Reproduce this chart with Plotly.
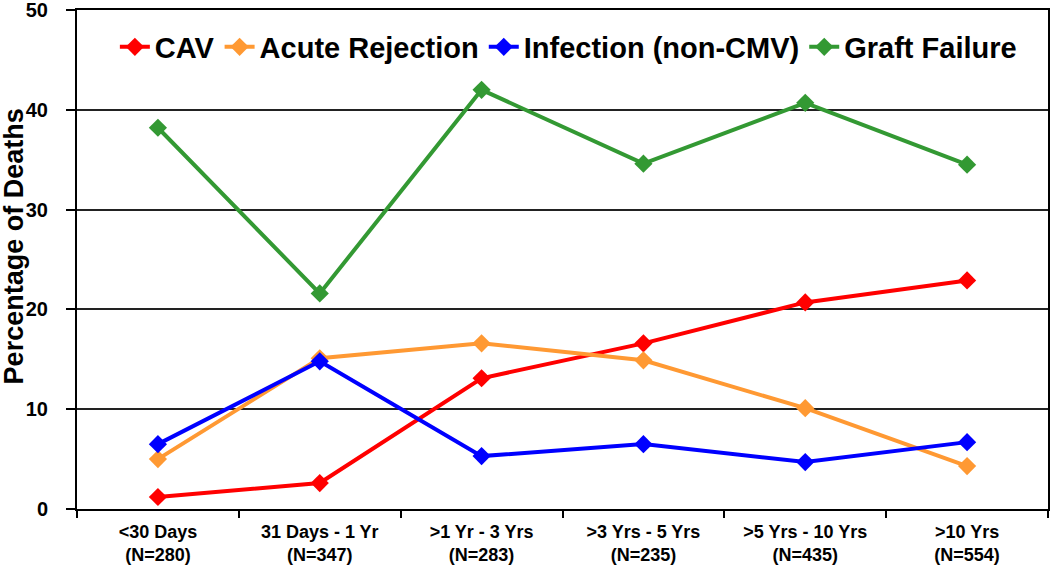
import plotly.graph_objects as go

categories = ["<30 Days<br>(N=280)", "31 Days - 1 Yr<br>(N=347)", ">1 Yr - 3 Yrs<br>(N=283)",
              ">3 Yrs - 5 Yrs<br>(N=235)", ">5 Yrs - 10 Yrs<br>(N=435)", ">10 Yrs<br>(N=554)"]
cav = [1.2, 2.6, 13.1, 16.6, 20.7, 22.9]
acute_rejection = [5.0, 15.1, 16.6, 14.9, 10.1, 4.3]
infection = [6.5, 14.8, 5.3, 6.5, 4.7, 6.7]
graft_failure = [38.2, 21.6, 42.0, 34.6, 40.7, 34.5]

series = [
    ("CAV", cav, "#FF0000"),
    ("Acute Rejection", acute_rejection, "#FF9933"),
    ("Infection (non-CMV)", infection, "#0000FF"),
    ("Graft Failure", graft_failure, "#339933"),
]

FONT = "Arial, Liberation Sans, Helvetica, sans-serif"

fig = go.Figure()
for name, vals, color in series:
    fig.add_trace(go.Scatter(
        x=categories, y=vals, name=name, mode="lines+markers",
        line=dict(color=color, width=4),
        marker=dict(symbol="diamond", size=14, color=color),
    ))

fig.update_layout(
    width=1050, height=565,
    margin=dict(l=77, r=2, t=10, b=56, autoexpand=False),
    paper_bgcolor="white", plot_bgcolor="white",
    font=dict(family=FONT, color="black"),
    showlegend=True,
    legend=dict(
        orientation="h", x=0.039, xanchor="left", y=0.926, yanchor="middle",
        font=dict(family=FONT, size=29, weight="bold", color="black"),
        bgcolor="rgba(0,0,0,0)", borderwidth=0,
        itemwidth=30, tracegroupgap=0,
    ),
    xaxis=dict(
        type="category", range=[-0.5, 5.5],
        tickson="boundaries", ticks="outside", ticklen=7, tickwidth=1.5, tickcolor="black",
        showline=True, linecolor="black", linewidth=2, mirror=True,
        showgrid=False, zeroline=False,
        tickfont=dict(family=FONT, size=18, weight="bold", color="black"),
        ticklabelstandoff=5, automargin=False,
    ),
    yaxis=dict(
        range=[0, 50], dtick=10, tick0=0,
        ticks="outside", ticklen=9, tickwidth=1.5, tickcolor="black",
        showline=True, linecolor="black", linewidth=2, mirror=True,
        showgrid=True, gridcolor="#222222", gridwidth=1.5, zeroline=False,
        tickfont=dict(family=FONT, size=20, weight="bold", color="black"),
        ticklabelstandoff=14, automargin=False, ticklabeloverflow="allow",
    ),
    annotations=[dict(
        text="Percentage of Deaths", textangle=-90,
        xref="paper", yref="paper", x=-0.0645, y=0.527,
        xanchor="center", yanchor="middle", showarrow=False,
        font=dict(family=FONT, size=27, weight="bold", color="black"),
    )],
)

fig.write_html("out.html", config={"displayModeBar": False},
               post_script="document.body.style.margin='0px';document.body.style.overflow='hidden';")
